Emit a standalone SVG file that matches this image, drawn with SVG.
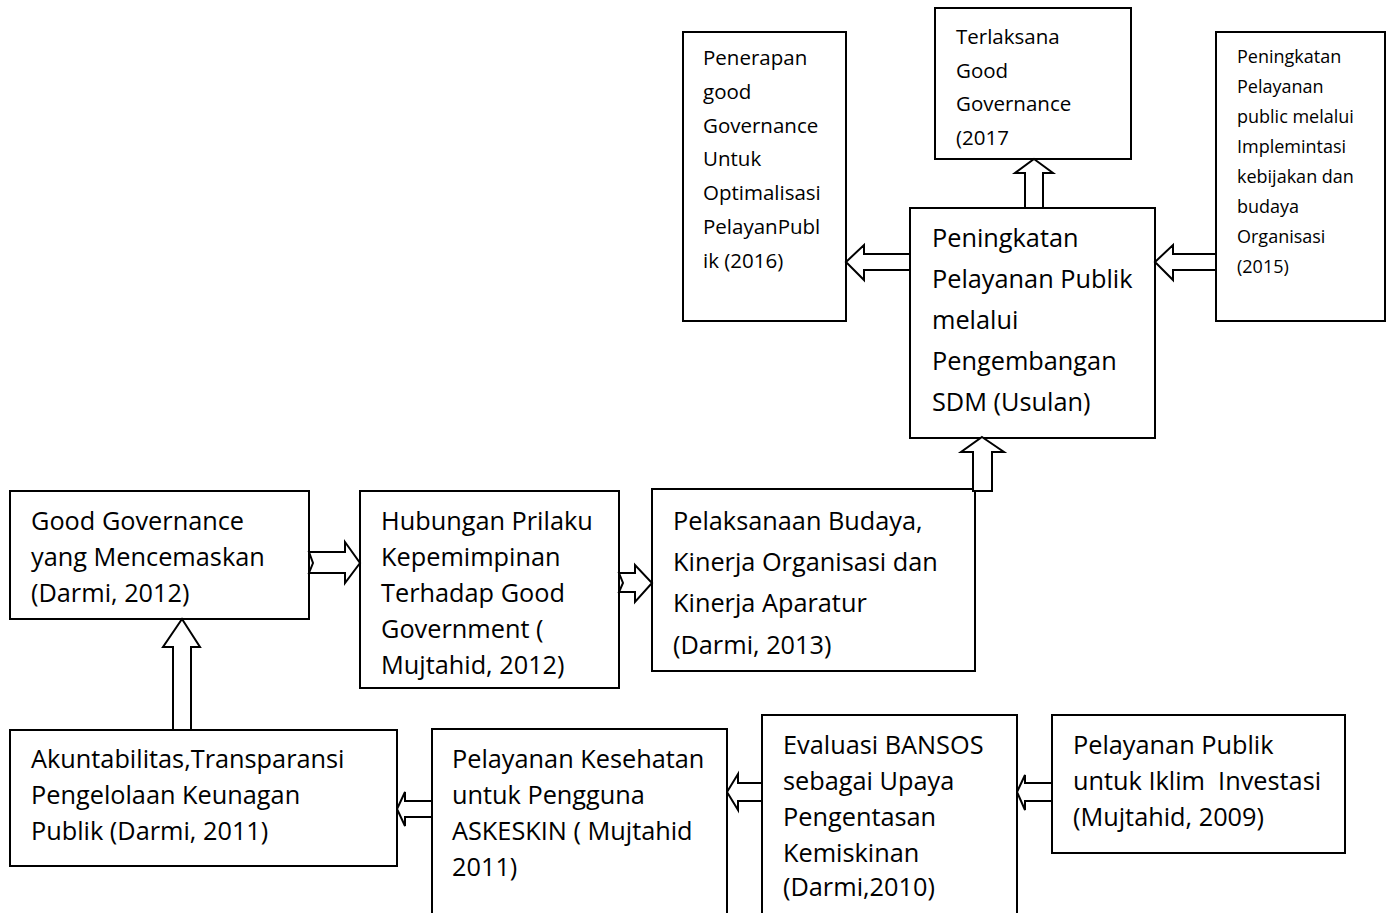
<svg xmlns="http://www.w3.org/2000/svg" width="1391" height="913" viewBox="0 0 1391 913">
<style>
rect.box{fill:#fff;stroke:#000;stroke-width:2}
.arr{fill:#fff;stroke:#000;stroke-width:2;stroke-linejoin:miter}
text{font-family:"Open Sans",Lato,"Liberation Sans",sans-serif;fill:#000}
.t20{font-size:20.5px}
.t17{font-size:18px}
.t24{font-size:25.3px}
</style>
<rect width="1391" height="913" fill="#fff"/>
<g id="nodeA"><rect class="box" x="683" y="32" width="163" height="289"/>
<text class="t20"><tspan x="703" y="65">Penerapan</tspan><tspan x="703" y="98.8">good</tspan><tspan x="703" y="132.6">Governance</tspan><tspan x="703" y="166.4">Untuk</tspan><tspan x="703" y="200.2">Optimalisasi</tspan><tspan x="703" y="234">PelayanPubl</tspan><tspan x="703" y="267.8">ik (2016)</tspan></text></g>
<g id="nodeB"><rect class="box" x="935" y="8" width="196" height="151"/>
<text class="t20"><tspan x="956" y="44">Terlaksana</tspan><tspan x="956" y="77.5">Good</tspan><tspan x="956" y="111">Governance</tspan><tspan x="956" y="144.5">(2017</tspan></text></g>
<g id="nodeC"><rect class="box" x="1216" y="32" width="169" height="289"/>
<text class="t17"><tspan x="1237" y="63">Peningkatan</tspan><tspan x="1237" y="93">Pelayanan</tspan><tspan x="1237" y="123">public melalui</tspan><tspan x="1237" y="153">Implemintasi</tspan><tspan x="1237" y="183">kebijakan dan</tspan><tspan x="1237" y="213">budaya</tspan><tspan x="1237" y="243">Organisasi</tspan><tspan x="1237" y="273">(2015)</tspan></text></g>
<g id="nodeD"><rect class="box" x="910" y="208" width="245" height="230"/>
<text class="t24"><tspan x="932" y="247">Peningkatan</tspan><tspan x="932" y="288">Pelayanan Publik</tspan><tspan x="932" y="329">melalui</tspan><tspan x="932" y="370">Pengembangan</tspan><tspan x="932" y="411">SDM (Usulan)</tspan></text></g>
<g id="nodeE"><rect class="box" x="10" y="491" width="299" height="128"/>
<text class="t24"><tspan x="31" y="530">Good Governance</tspan><tspan x="31" y="566">yang Mencemaskan</tspan><tspan x="31" y="602">(Darmi, 2012)</tspan></text></g>
<g id="nodeF"><rect class="box" x="360" y="491" width="259" height="197"/>
<text class="t24"><tspan x="381" y="530">Hubungan Prilaku</tspan><tspan x="381" y="566">Kepemimpinan</tspan><tspan x="381" y="602">Terhadap Good</tspan><tspan x="381" y="638">Government (</tspan><tspan x="381" y="674">Mujtahid, 2012)</tspan></text></g>
<g id="nodeG"><rect class="box" x="652" y="489" width="323" height="182"/>
<text class="t24"><tspan x="673" y="530">Pelaksanaan Budaya,</tspan><tspan x="673" y="571">Kinerja Organisasi dan</tspan><tspan x="673" y="612">Kinerja Aparatur</tspan><tspan x="673" y="654">(Darmi, 2013)</tspan></text></g>
<g id="nodeH"><rect class="box" x="10" y="730" width="387" height="136"/>
<text class="t24"><tspan x="31" y="768">Akuntabilitas,Transparansi</tspan><tspan x="31" y="804">Pengelolaan Keunagan</tspan><tspan x="31" y="840">Publik (Darmi, 2011)</tspan></text></g>
<g id="nodeI"><rect class="box" x="432" y="729" width="295" height="200"/>
<text class="t24"><tspan x="452" y="768">Pelayanan Kesehatan</tspan><tspan x="452" y="804">untuk Pengguna</tspan><tspan x="452" y="840">ASKESKIN ( Mujtahid</tspan><tspan x="452" y="876">2011)</tspan></text></g>
<g id="nodeJ"><rect class="box" x="762" y="715" width="255" height="214"/>
<text class="t24"><tspan x="783" y="754">Evaluasi BANSOS</tspan><tspan x="783" y="790">sebagai Upaya</tspan><tspan x="783" y="826">Pengentasan</tspan><tspan x="783" y="862">Kemiskinan</tspan><tspan x="783" y="896">(Darmi,2010)</tspan></text></g>
<g id="nodeK"><rect class="box" x="1052" y="715" width="293" height="138"/>
<text class="t24" xml:space="preserve"><tspan x="1073" y="754">Pelayanan Publik</tspan><tspan x="1073" y="790">untuk Iklim  Investasi</tspan><tspan x="1073" y="826">(Mujtahid, 2009)</tspan></text></g>
<g id="connectors">
<path class="arr" d="M1034,159 L1053,173 L1043,173 L1043,208 L1025,208 L1025,173 L1015,173 Z"/>
<path class="arr" d="M846,262 L864,245 L864,254 L910,254 L910,270 L864,270 L864,280 Z"/>
<path class="arr" d="M1155,262 L1173,245 L1173,254 L1216,254 L1216,270 L1173,270 L1173,280 Z"/>
<path class="arr" d="M982,437 L1004,452 L992,452 L992,491 L973,491 L973,452 L961,452 Z"/>
<path class="arr" d="M182,619 L200,647 L191,647 L191,730 L173,730 L173,647 L163,647 Z"/>
<path class="arr" d="M309,552 L345,552 L345,542 L360,563 L345,583 L345,573 L309,573 L313,563 Z"/>
<path class="arr" d="M619,573 L635,573 L635,565 L652,583 L635,602 L635,592 L619,592 L623,583 Z"/>
<path class="arr" d="M397,809 L405,792 L405,801 L432,801 L432,817 L405,817 L405,826 Z"/>
<path class="arr" d="M727,792 L738,774 L738,783 L762,783 L762,801 L738,801 L738,810 Z"/>
<path class="arr" d="M1017,792 L1025,775 L1025,783 L1052,783 L1052,801 L1025,801 L1025,810 Z"/>
</g>
</svg>
